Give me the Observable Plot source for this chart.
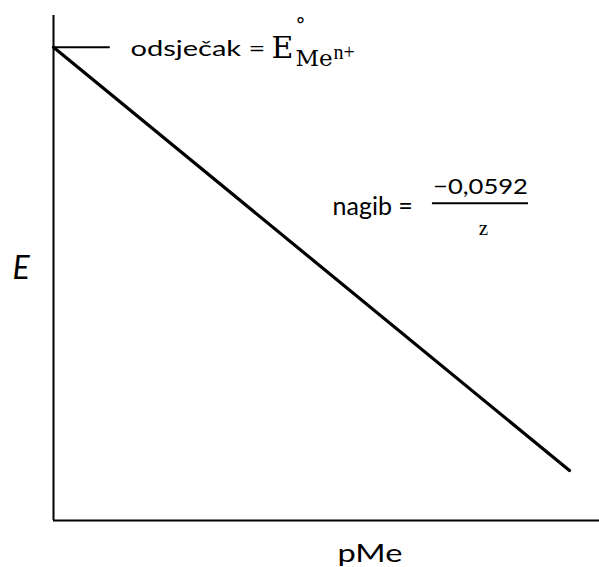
<!DOCTYPE html>
<html>
<head>
<meta charset="utf-8">
<script src="https://cdn.jsdelivr.net/npm/d3@7"></script>
<script src="https://cdn.jsdelivr.net/npm/@observablehq/plot@0.6"></script>
<style>
  body { margin: 0; background: #fff; }
</style>
</head>
<body>
<script>
// ---- data (conceptual units) ----
const pMe = [0, 9.45];          // x: pMe
const E = [9.37, 0.99];         // y: electrode potential E
const interceptTickEnd = [1.04];  // short horizontal mark at the intercept
const slopeBar = { x1: 6.94, x2: 8.70, y: 6.28 }; // fraction bar of slope note

const axisTitles = ["pMe", "E"];
const interceptLabel = ["odsječak =", "E", "°", "Me", "n+"];
const slopeLabel = ["nagib =", "−0,0592", "z"];

// ---- chart ----
const W = 599, H = 567;
const mL = 53, mT = 15;
const lineData = pMe.map((x, i) => ({ x, y: E[i] }));

const SANS = "Lato, 'Open Sans', sans-serif";
const SERIF = "'DejaVu Serif', serif";
const SERIF2 = "'Liberation Serif', serif";

// text helper: anchored at the frame's top-left, offset by (px - margin)
const note = (s, px, baseline, o = {}) =>
  Plot.text([s], {
    text: d => d,
    frameAnchor: "top-left",
    textAnchor: "start",
    lineAnchor: "bottom",
    dx: px - mL,
    dy: baseline - mT,
    fill: "black",
    ...o
  });

const chart = Plot.plot({
  width: W,
  height: H,
  marginLeft: mL,
  marginRight: 0,
  marginTop: mT,
  marginBottom: 47,
  x: { domain: [0, 10], axis: null },
  y: { domain: [0, 10], axis: null },
  style: { background: "white", color: "black", overflow: "visible" },
  marks: [
    Plot.ruleX([0], { stroke: "black", strokeWidth: 2 }),
    Plot.ruleY([0], { stroke: "black", strokeWidth: 2 }),
    Plot.ruleY([E[0]], { x1: 0, x2: interceptTickEnd[0], stroke: "black", strokeWidth: 2 }),
    Plot.line(lineData, { x: "x", y: "y", stroke: "black", strokeWidth: 3.2, strokeLinecap: "round" }),
    Plot.ruleY([slopeBar.y], { x1: slopeBar.x1, x2: slopeBar.x2, stroke: "black", strokeWidth: 2 }),

    // intercept label
    note(interceptLabel[0], 130, 55, { fontFamily: SANS, fontSize: 22 }),
    note(interceptLabel[1], 271, 57, { fontFamily: SERIF, fontSize: 30 }),
    note(interceptLabel[2], 300, 17, { fontFamily: SERIF, fontSize: 20, textAnchor: "middle", lineAnchor: "top" }),
    note(interceptLabel[3], 295, 65, { fontFamily: SERIF, fontSize: 23 }),
    note(interceptLabel[4], 333, 58, { fontFamily: SERIF2, fontSize: 20 }),

    // slope label
    note(slopeLabel[0], 332, 214, { fontFamily: SANS, fontSize: 25 }),
    note(slopeLabel[1], 480, 193, { fontFamily: SANS, fontSize: 21, textAnchor: "middle" }),
    note(slopeLabel[2], 483, 234, { fontFamily: SERIF2, fontSize: 21, textAnchor: "middle" }),

    // axis titles
    note(axisTitles[0], 337, 561, { fontFamily: SANS, fontSize: 25 }),
    note(axisTitles[1], 12, 278, { fontFamily: SANS, fontSize: 32, fontStyle: "italic" })
  ]
});

document.body.appendChild(chart);

// horizontal stretch of text boxes that are wider in the original
const stretch = { "odsječak =": 135, "pMe": 65, "−0,0592": 95 };
d3.select(chart).selectAll("text").each(function () {
  const target = stretch[this.textContent];
  if (!target) return;
  const len = this.getComputedTextLength();
  if (!len) return;
  const s = target / len;
  const t = this.getAttribute("transform") || "";
  this.setAttribute("transform", `${t} scale(${s.toFixed(3)},1)`);
});
</script>
</body>
</html>
